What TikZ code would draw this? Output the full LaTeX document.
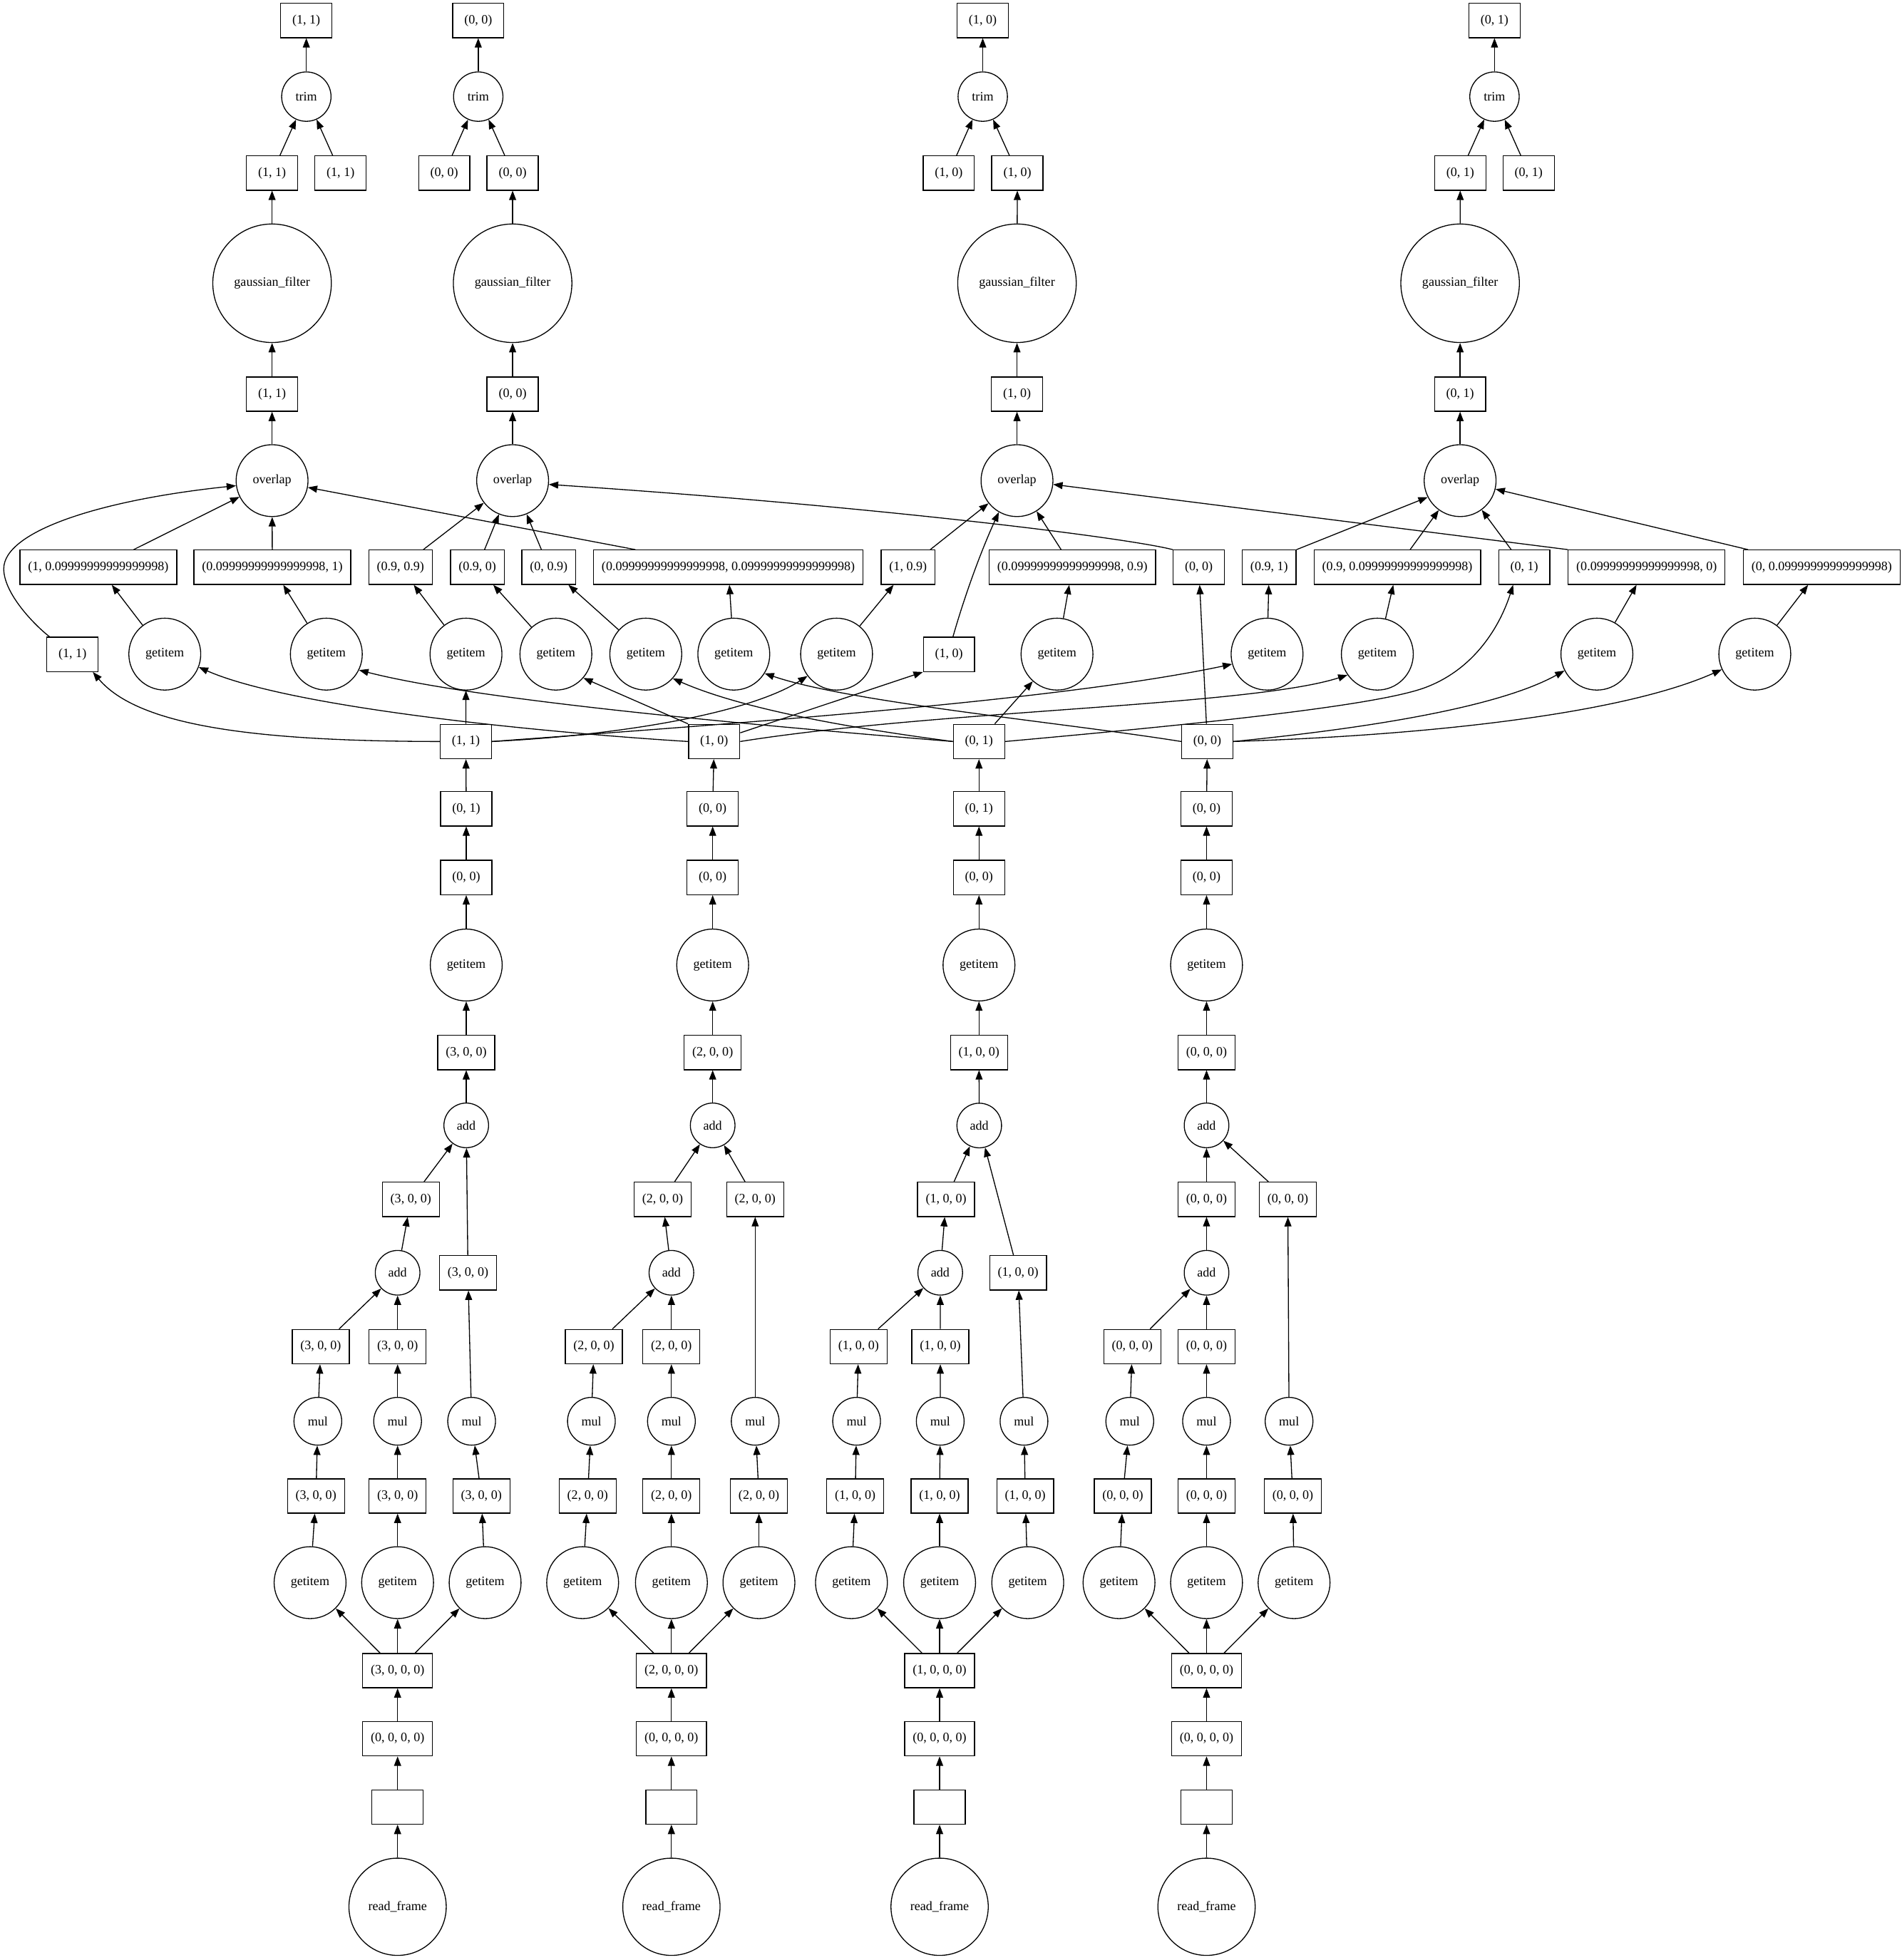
\documentclass[tikz,border=0pt]{standalone}
\usepackage{fontspec}
\setmainfont{Liberation Serif}
\usetikzlibrary{arrows.meta}
\newcommand\dkf{\fontsize{10.3}{12}\selectfont}
\newcommand\ndq{0.09999999999999998}
\tikzset{
  bx/.style={draw, rectangle, minimum width=41pt, minimum height=27.5pt, inner xsep=6.5pt, inner ysep=0pt, font=\dkf},
  cn/.style={draw, circle, inner sep=0pt, font=\dkf},
  gi/.style={cn, minimum size=57.5pt},
  rf/.style={cn, minimum size=77.8pt},
  gf/.style={cn, minimum size=94.8pt},
  ad/.style={cn, minimum size=35.7pt},
  ml/.style={cn, minimum size=38.2pt},
  tr/.style={cn, minimum size=39.5pt},
  ed/.style={-{Triangle[length=7.5pt,width=5.6pt]}},
}
\begin{document}
\begin{tikzpicture}[x=1pt, y=-1pt, line width=0.75pt]
\useasboundingbox (0,0) rectangle (1521,1568);

% ---------- column A : chunk (1,1) ----------
\node[rf] (rfA) at (318,1525.4) {read\_frame};
\node[bx] (eA) at (318,1445.6) {};
\node[bx] (A0) at (318,1391) {(0, 0, 0, 0)};
\node[bx] (A1) at (318,1336.5) {(3, 0, 0, 0)};
\node[gi] (Ag1) at (248,1266.1) {getitem};
\node[gi] (Ag2) at (318,1266.1) {getitem};
\node[gi] (Ag3) at (388,1266.1) {getitem};
\node[bx] (Ab1) at (252.7,1196.8) {(3, 0, 0)};
\node[bx] (Ab2) at (318,1196.8) {(3, 0, 0)};
\node[bx] (Ab3) at (385,1196.8) {(3, 0, 0)};
\node[ml] (Am1) at (254.2,1137) {mul};
\node[ml] (Am2) at (318,1137) {mul};
\node[ml] (Am3) at (377.2,1137) {mul};
\node[bx] (Ac1) at (256.5,1077.3) {(3, 0, 0)};
\node[bx] (Ac2) at (318,1077.3) {(3, 0, 0)};
\node[bx] (Ac3) at (374.3,1018.3) {(3, 0, 0)};
\node[ad] (Ad1) at (318,1018.2) {add};
\node[bx] (Ae) at (328.6,959.5) {(3, 0, 0)};
\node[ad] (Ad2) at (372.9,900.3) {add};
\node[bx] (Af) at (372.9,842) {(3, 0, 0)};
\node[gi] (Ag) at (372.9,772) {getitem};
\node[bx] (Ah) at (372.9,702) {(0, 0)};
\node[bx] (Ai) at (372.9,647) {(0, 1)};
\node[bx] (A) at (372.6,593.2) {(1, 1)};

% ---------- column B : chunk (1,0) ----------
\node[rf] (rfB) at (537,1525.4) {read\_frame};
\node[bx] (eB) at (537,1445.6) {};
\node[bx] (B0) at (537,1391) {(0, 0, 0, 0)};
\node[bx] (B1) at (537,1336.5) {(2, 0, 0, 0)};
\node[gi] (Bg1) at (466,1266.1) {getitem};
\node[gi] (Bg2) at (537,1266.1) {getitem};
\node[gi] (Bg3) at (607,1266.1) {getitem};
\node[bx] (Bb1) at (470,1196.8) {(2, 0, 0)};
\node[bx] (Bb2) at (537,1196.8) {(2, 0, 0)};
\node[bx] (Bb3) at (607,1196.8) {(2, 0, 0)};
\node[ml] (Bm1) at (473,1137) {mul};
\node[ml] (Bm2) at (537,1137) {mul};
\node[ml] (Bm3) at (604,1137) {mul};
\node[bx] (Bc1) at (475,1077.3) {(2, 0, 0)};
\node[bx] (Bc2) at (537,1077.3) {(2, 0, 0)};
\node[bx] (Bc3) at (604,959.5) {(2, 0, 0)};
\node[ad] (Bd1) at (537,1018.2) {add};
\node[bx] (Be) at (530,959.5) {(2, 0, 0)};
\node[ad] (Bd2) at (570,900.3) {add};
\node[bx] (Bf) at (570,842) {(2, 0, 0)};
\node[gi] (Bg) at (570,772) {getitem};
\node[bx] (Bh) at (570,702) {(0, 0)};
\node[bx] (Bi) at (570,647) {(0, 0)};
\node[bx] (B) at (571.2,593.2) {(1, 0)};

% ---------- column C : chunk (0,1) ----------
\node[rf] (rfC) at (751.5,1525.4) {read\_frame};
\node[bx] (eC) at (751.5,1445.6) {};
\node[bx] (C0) at (751.5,1391) {(0, 0, 0, 0)};
\node[bx] (C1) at (751.5,1336.5) {(1, 0, 0, 0)};
\node[gi] (Cg1) at (681,1266.1) {getitem};
\node[gi] (Cg2) at (751.5,1266.1) {getitem};
\node[gi] (Cg3) at (822,1266.1) {getitem};
\node[bx] (Cb1) at (684,1196.8) {(1, 0, 0)};
\node[bx] (Cb2) at (751.5,1196.8) {(1, 0, 0)};
\node[bx] (Cb3) at (820,1196.8) {(1, 0, 0)};
\node[ml] (Cm1) at (685.1,1137) {mul};
\node[ml] (Cm2) at (752,1137) {mul};
\node[ml] (Cm3) at (819,1137) {mul};
\node[bx] (Cc1) at (686.7,1077.3) {(1, 0, 0)};
\node[bx] (Cc2) at (752.1,1077.3) {(1, 0, 0)};
\node[bx] (Cc3) at (814.3,1018.2) {(1, 0, 0)};
\node[ad] (Cd1) at (752,1018.2) {add};
\node[bx] (Ce) at (756.7,959.5) {(1, 0, 0)};
\node[ad] (Cd2) at (783.2,900.4) {add};
\node[bx] (Cf) at (783,842) {(1, 0, 0)};
\node[gi] (Cg) at (783,772) {getitem};
\node[bx] (Ch) at (783,702) {(0, 0)};
\node[bx] (Ci) at (783,647) {(0, 1)};
\node[bx] (C) at (783,593.2) {(0, 1)};

% ---------- column D : chunk (0,0) ----------
\node[rf] (rfD) at (965,1525.4) {read\_frame};
\node[bx] (eD) at (965,1445.6) {};
\node[bx] (D0) at (965,1391) {(0, 0, 0, 0)};
\node[bx] (D1) at (965,1336.5) {(0, 0, 0, 0)};
\node[gi] (Dg1) at (895,1266.1) {getitem};
\node[gi] (Dg2) at (965,1266.1) {getitem};
\node[gi] (Dg3) at (1035,1266.1) {getitem};
\node[bx] (Db1) at (898,1196.8) {(0, 0, 0)};
\node[bx] (Db2) at (965,1196.8) {(0, 0, 0)};
\node[bx] (Db3) at (1034,1196.8) {(0, 0, 0)};
\node[ml] (Dm1) at (903.6,1137) {mul};
\node[ml] (Dm2) at (965,1137) {mul};
\node[ml] (Dm3) at (1031,1137) {mul};
\node[bx] (Dc1) at (905.6,1077.3) {(0, 0, 0)};
\node[bx] (Dc2) at (965,1077.3) {(0, 0, 0)};
\node[bx] (Dc3) at (1030,959.5) {(0, 0, 0)};
\node[ad] (Dd1) at (965,1018.2) {add};
\node[bx] (De) at (965,959.5) {(0, 0, 0)};
\node[ad] (Dd2) at (965,900.3) {add};
\node[bx] (Df) at (965,842) {(0, 0, 0)};
\node[gi] (Dg) at (965,772) {getitem};
\node[bx] (Dh) at (965,702) {(0, 0)};
\node[bx] (Di) at (965,647) {(0, 0)};
\node[bx] (D) at (965.6,593.2) {(0, 0)};

\foreach \col in {A,B,C,D}{
  \draw[ed] (rf\col) -- (e\col);
  \draw[ed] (e\col) -- (\col 0);
  \draw[ed] (\col 0) -- (\col 1);
  \foreach \i in {1,2,3}{
    \draw[ed] (\col 1) -- (\col g\i);
    \draw[ed] (\col g\i) -- (\col b\i);
    \draw[ed] (\col b\i) -- (\col m\i);
    \draw[ed] (\col m\i) -- (\col c\i);
  }
  \draw[ed] (\col c1) -- (\col d1);
  \draw[ed] (\col c2) -- (\col d1);
  \draw[ed] (\col d1) -- (\col e);
  \draw[ed] (\col e) -- (\col d2);
  \draw[ed] (\col c3) -- (\col d2);
  \draw[ed] (\col d2) -- (\col f);
  \draw[ed] (\col f) -- (\col g);
  \draw[ed] (\col g) -- (\col h);
  \draw[ed] (\col h) -- (\col i);
  \draw[ed] (\col i) -- (\col);
}

% ---------- getitem row ----------
\node[bx] (K11) at (58,523.5) {(1, 1)};
\node[gi] (gi130) at (131.8,523.3) {getitem};
\node[gi] (gi262) at (261,523.3) {getitem};
\node[gi] (gi372) at (372.7,523.3) {getitem};
\node[gi] (gi445) at (444.6,523.3) {getitem};
\node[gi] (gi516) at (516.5,523.3) {getitem};
\node[gi] (gi587) at (586.9,523.3) {getitem};
\node[gi] (gi668) at (669.1,523.3) {getitem};
\node[bx] (K10) at (759,523.5) {(1, 0)};
\node[gi] (gi845) at (845.4,523.3) {getitem};
\node[gi] (gi1013) at (1013.4,523.3) {getitem};
\node[gi] (gi1101) at (1101.6,523.3) {getitem};
\node[gi] (gi1276) at (1277.2,523.3) {getitem};
\node[gi] (gi1401) at (1403.5,523.3) {getitem};

% ---------- slice-label row ----------
\node[bx] (L1) at (78.6,453.8) {(1, \ndq)};
\node[bx] (L2) at (217.8,453.8) {(\ndq, 1)};
\node[bx] (L3) at (320.3,453.8) {(0.9, 0.9)};
\node[bx] (L4) at (381.8,453.8) {(0.9, 0)};
\node[bx] (L5) at (438.9,453.8) {(0, 0.9)};
\node[bx] (L6) at (582.5,453.8) {(\ndq, \ndq)};
\node[bx] (L7) at (726.3,453.8) {(1, 0.9)};
\node[bx] (L8) at (857.7,453.8) {(\ndq, 0.9)};
\node[bx] (L9) at (958.8,453.8) {(0, 0)};
\node[bx] (L10) at (1015.1,453.8) {(0.9, 1)};
\node[bx] (L11) at (1117.6,453.8) {(0.9, \ndq)};
\node[bx] (L12) at (1219.1,453.8) {(0, 1)};
\node[bx] (L13) at (1317,453.8) {(\ndq, 0)};
\node[bx] (L14) at (1457,453.8) {(0, \ndq)};

% ---------- top part ----------
\foreach \k/\x/\xa/\xb/\xt in {1/217.6/217.6/272.4/245, 2/410/355.3/410/382.5, 3/813.4/758.8/813.7/786, 4/1167.8/1167.9/1222.6/1195.3}{
  \node[gi] (O\k) at (\x,384.5) {overlap};
  \node[gf] (G\k) at (\x,226.6) {gaussian\_filter};
  \node[tr] (T\k) at (\xt,77.3) {trim};
}
\node[bx] (P1) at (217.6,315.3) {(1, 1)};
\node[bx] (P2) at (410,315.3) {(0, 0)};
\node[bx] (P3) at (813.4,315.3) {(1, 0)};
\node[bx] (P4) at (1167.8,315.3) {(0, 1)};
\node[bx] (Q1a) at (217.6,138.4) {(1, 1)};
\node[bx] (Q1b) at (272.4,138.4) {(1, 1)};
\node[bx] (Q2a) at (355.3,138.4) {(0, 0)};
\node[bx] (Q2b) at (410,138.4) {(0, 0)};
\node[bx] (Q3a) at (758.8,138.4) {(1, 0)};
\node[bx] (Q3b) at (813.7,138.4) {(1, 0)};
\node[bx] (Q4a) at (1167.9,138.4) {(0, 1)};
\node[bx] (Q4b) at (1222.6,138.4) {(0, 1)};
\node[bx] (R1) at (245,16.4) {(1, 1)};
\node[bx] (R2) at (382.5,16.4) {(0, 0)};
\node[bx] (R3) at (786,16.4) {(1, 0)};
\node[bx] (R4) at (1195.3,16.4) {(0, 1)};

\foreach \k in {1,2,3,4}{
  \draw[ed] (O\k) -- (P\k);
  \draw[ed] (P\k) -- (G\k);
  \draw[ed] (Q\k a) -- (T\k);
  \draw[ed] (Q\k b) -- (T\k);
  \draw[ed] (T\k) -- (R\k);
}
\draw[ed] (G1) -- (Q1a);
\draw[ed] (G2) -- (Q2b);
\draw[ed] (G3) -- (Q3b);
\draw[ed] (G4) -- (Q4a);

% ---------- labels -> overlap ----------
\draw[ed] ([xshift=2.5pt]K11.north west) .. controls (28,500.4) and (3,475) .. (3,455)
          .. controls (3,425) and (80,400) .. (O1.188);
\draw[ed] (L1) -- (O1);
\draw[ed] (L2) -- (O1);
\draw[ed] (L6) -- (O1);
\draw[ed] (L3) -- (O2);
\draw[ed] (L4) -- (O2);
\draw[ed] (L5) -- (O2);
\draw[ed] (L9.north west) .. controls (900,430) and (700,405) .. (O2.-6);
\draw[ed] (L7) -- (O3);
\draw[ed] ([xshift=3.2pt]K10.north) .. controls (772,475) and (785,440) .. (O3.240);
\draw[ed] (L8) -- (O3);
\draw[ed] (L13.north west) -- (O3.-6);
\draw[ed] (L10.north east) -- (O4.207);
\draw[ed] (L11) -- (O4);
\draw[ed] (L12) -- (O4);
\draw[ed] (L14) -- (O4);

% ---------- getitem -> labels ----------
\draw[ed] (gi130) -- (L1);
\draw[ed] (gi262) -- (L2);
\draw[ed] (gi372) -- (L3);
\draw[ed] (gi445) -- (L4);
\draw[ed] (gi516) -- (L5);
\draw[ed] (gi587) -- (L6);
\draw[ed] (gi668) -- (L7);
\draw[ed] (gi845) -- (L8);
\draw[ed] (D) -- (L9);
\draw[ed] (gi1013) -- (L10);
\draw[ed] (gi1101) -- (L11);
\draw[ed] (gi1276) -- (L13);
\draw[ed] (gi1401) -- (L14);

% ---------- chunks -> getitems ----------
% chunk (1,1)
\draw[ed] (A.west) .. controls (200,593) and (110,580) .. ([xshift=-4.6pt]K11.south east);
\draw[ed] (A) -- (gi372);
\draw[ed] (A.east) .. controls (500,588) and (600,570) .. (gi668.217);
\draw[ed] (A.east) .. controls (600,578) and (850,560) .. (gi1013.196);
% chunk (1,0)
\draw[ed] (B.west) .. controls (420,585) and (230,565) .. (gi130.-21);
\draw[ed] (B.north west) -- (gi445.-41);
\draw[ed] (B) -- (K10.south west);
\draw[ed] (B.east) .. controls (750,568) and (1000,565) .. (gi1101.215);
% chunk (0,1)
\draw[ed] (C.west) .. controls (600,580) and (380,560) .. (gi262.-26);
\draw[ed] (C.west) .. controls (700,585) and (600,570) .. (gi516.-42);
\draw[ed] (C) -- (gi845);
\draw[ed] (C.east) .. controls (950,580) and (1100,565) .. (1140,550)
          .. controls (1180,535) and (1200,500) .. ([xshift=12pt]L12.south west);
% chunk (0,0)
\draw[ed] (D.west) .. controls (850,578) and (680,562) .. (gi587.-32);
\draw[ed] (D.east) .. controls (1100,582) and (1200,565) .. (gi1276.207);
\draw[ed] (D.east) .. controls (1150,588) and (1300,570) .. (gi1401.205);
\end{tikzpicture}
\end{document}
